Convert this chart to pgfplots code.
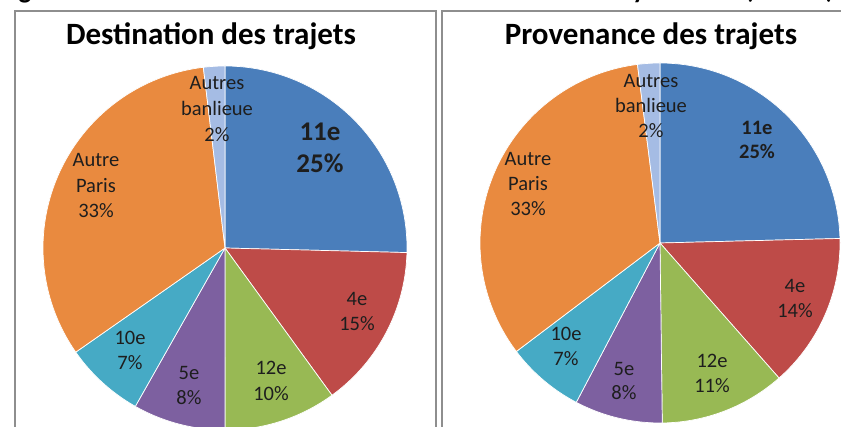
\documentclass[border=0pt]{standalone}
\usepackage{pgfplots}
\pgfplotsset{compat=1.18}
\usepackage{pgfplotstable}
\usepackage{fontspec}
\setmainfont{Carlito}

\definecolor{pie0}{HTML}{4A7EBB}
\definecolor{pie1}{HTML}{BE4B48}
\definecolor{pie2}{HTML}{98B954}
\definecolor{pie3}{HTML}{7D60A0}
\definecolor{pie4}{HTML}{46AAC5}
\definecolor{pie5}{HTML}{E98A3F}
\definecolor{pie6}{HTML}{A5BCE4}
\definecolor{framegray}{HTML}{8E8E8E}
\definecolor{labtext}{HTML}{1E1E1E}

% Destination des trajets (share, %)
\pgfplotstableread{
name value
11e 25.4
4e 14.6
12e 10.0
5e 8.2
10e 7.1
AutreParis 32.8
AutresBanlieue 1.9
}\desttable

% Provenance des trajets (share, %)
\pgfplotstableread{
name value
11e 24.6
4e 13.9
12e 11.3
5e 7.9
10e 7.0
AutreParis 33.3
AutresBanlieue 2.0
}\provtable

\newcommand\computeangles[2]{%
  \pgfplotstablegetrowsof{#1}%
  \pgfmathtruncatemacro\nrows{\pgfplotsretval-1}%
  \gdef\cum{0}%
  \foreach \i in {0,...,\nrows}{%
    \pgfplotstablegetelem{\i}{value}\of{#1}%
    \pgfmathsetmacro\a{90-3.6*\cum}%
    \pgfmathsetmacro\newcum{\cum+\pgfplotsretval}%
    \pgfmathsetmacro\b{90-3.6*\newcum}%
    \expandafter\xdef\csname #2s\i\endcsname{\b}%
    \expandafter\xdef\csname #2e\i\endcsname{\a}%
    \xdef\cum{\newcum}%
  }%
}

\begin{document}
\begin{tikzpicture}[x=1pt,y=1pt]
\computeangles{\desttable}{D}
\computeangles{\provtable}{P}
\useasboundingbox (0,0) rectangle (841,427);
\clip (0,0) rectangle (841,427);
\fill[white] (0,0) rectangle (841,427);

% partial title line cut at the top
\begin{scope}[font=\bfseries\fontsize{27}{30}\selectfont]
\node[anchor=base] at (25,428) {g};
\node[anchor=base] at (639,428) {y};
\node[anchor=base] at (749,428) {(};
\node[anchor=base] at (830,428) {)};
\end{scope}

% frames
\draw[framegray, line width=1.3pt] (15,-5) -- (15,416) -- (436,416) -- (436,-5);
\draw[framegray, line width=1.3pt] (442,-5) -- (442,416) -- (850,416);

% titles
\node[anchor=base, font=\bfseries\fontsize{31}{34}\selectfont] at (211,382) {Destination des trajets};
\node[anchor=base, font=\bfseries\fontsize{31}{34}\selectfont] at (651,382) {Provenance des trajets};

% left pie
\begin{axis}[hide axis, scale only axis, x=182pt, y=182pt,
  xmin=-1, xmax=1, ymin=-1, ymax=1, clip=false,
  anchor=center, at={(225pt,179pt)}]
\pgfplotsinvokeforeach{0,...,6}{
  \addplot[fill=pie#1, draw=white, line width=0.7pt, samples=80, variable=\t,
    domain=\csname Ds#1\endcsname:\csname De#1\endcsname]
    ({cos(\t)},{sin(\t)}) -- (0,0) -- cycle;
}
\end{axis}

% right pie
\begin{axis}[hide axis, scale only axis, x=180pt, y=180pt,
  xmin=-1, xmax=1, ymin=-1, ymax=1, clip=false,
  anchor=center, at={(660pt,184pt)}]
\pgfplotsinvokeforeach{0,...,6}{
  \addplot[fill=pie#1, draw=white, line width=0.7pt, samples=80, variable=\t,
    domain=\csname Ps#1\endcsname:\csname Pe#1\endcsname]
    ({cos(\t)},{sin(\t)}) -- (0,0) -- cycle;
}
\end{axis}

% labels, left
\begin{scope}[every node/.style={anchor=mid, text=labtext, font=\fontsize{20.5}{24}\selectfont}]
\node at (217,340) {Autres};
\node at (217,314) {banlieue};
\node at (217,288) {2\%};
\node at (96,263) {Autre};
\node at (96,237) {Paris};
\node at (96,212) {33\%};
\node at (357,124) {4e};
\node at (357,99) {15\%};
\node at (271,55) {12e};
\node at (271,29) {10\%};
\node at (189,50) {5e};
\node at (189,25) {8\%};
\node at (130,85) {10e};
\node at (130,60) {7\%};
% right
\node at (651,342) {Autres};
\node at (651,317) {banlieue};
\node at (651,292) {2\%};
\node at (528,264) {Autre};
\node at (528,239) {Paris};
\node at (528,214) {33\%};
\node at (795,137) {4e};
\node at (795,112) {14\%};
\node at (712,62) {12e};
\node at (712,37) {11\%};
\node at (624,54) {5e};
\node at (624,30) {8\%};
\node at (566,89) {10e};
\node at (566,64) {7\%};
\node[font=\bfseries\fontsize{20.5}{24}\selectfont] at (757,295) {11e};
\node[font=\bfseries\fontsize{20.5}{24}\selectfont] at (757,271) {25\%};
\node[font=\bfseries\fontsize{27}{30}\selectfont] at (320,289) {11e};
\node[font=\bfseries\fontsize{27}{30}\selectfont] at (320,257) {25\%};
\end{scope}
\end{tikzpicture}
\end{document}
